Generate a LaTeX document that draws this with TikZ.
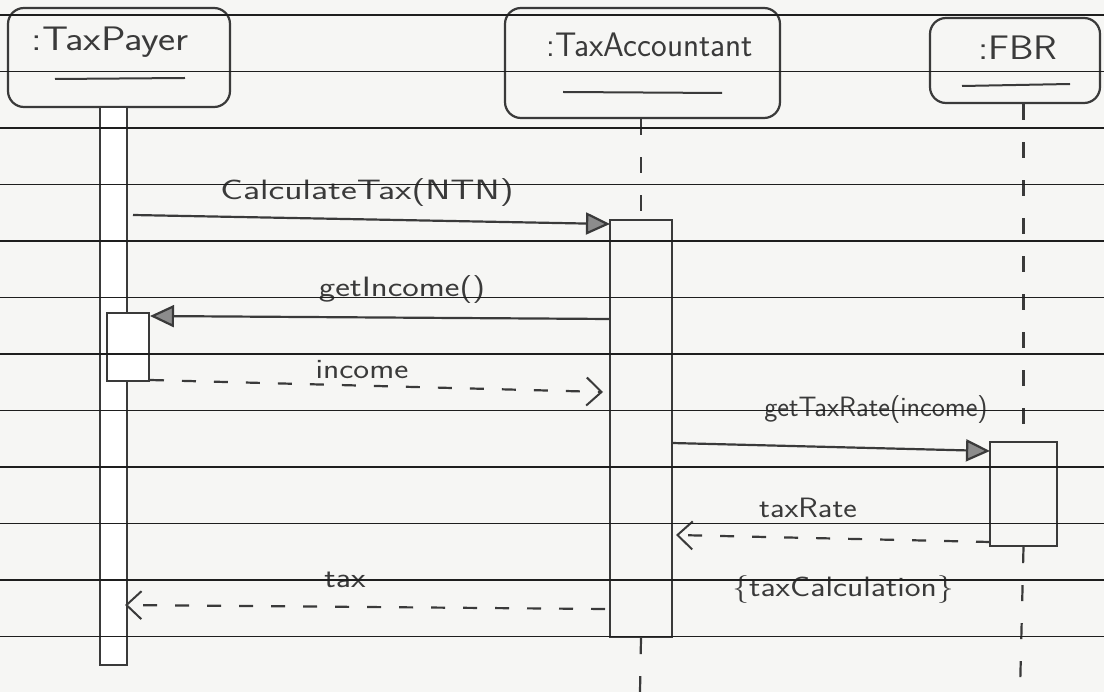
\documentclass[tikz,border=0pt]{standalone}
\usetikzlibrary{arrows.meta}
\definecolor{pen}{HTML}{3A3A3A}
\definecolor{paper}{HTML}{F6F6F4}
\definecolor{rule}{HTML}{1E1E1E}
\newcommand{\hw}[2]{\scalebox{#1}[1]{#2}}
\begin{document}
\begin{tikzpicture}[x=1pt,y=-1pt,
  pencil/.style={draw=pen, line width=2.2pt},
  objbox/.style={pencil, rounded corners=16pt, inner sep=0pt},
  actbox/.style={pencil, inner sep=0pt, fill=white},
  title/.style={text=pen, font=\fontsize{34}{38}\sffamily, inner sep=0pt},
  lbl/.style={text=pen, font=\fontsize{28}{32}\sffamily, inner sep=0pt},
  uline/.style={draw=pen, line width=2pt},
  lifeline/.style={draw=pen, line width=2.2pt, dash pattern=on 16pt off 22pt},
  sync/.style={draw=pen, line width=2.2pt, -{Triangle[length=24pt,width=22pt,fill=black!45]}},
  reply/.style={draw=pen, line width=2.2pt, dash pattern=on 14pt off 18pt, -{Straight Barb[length=15pt,width=28pt,line width=2pt]}},
  ruled/.style={draw=rule, line width=1.8pt}
]
\useasboundingbox (0,0) rectangle (1104,692);
\fill[paper] (0,0) rectangle (1104,692);

% objects
\node[objbox, minimum width=222pt, minimum height=99pt] (tp) at (119,57.5) {};
\node[title] (tpt) at (110,42) {\hw{1.2}{:TaxPayer}};
\draw[uline] (55,79) -- (185,78);

\node[objbox, minimum width=275pt, minimum height=110pt] (acc) at (642.5,63) {};
\node[title] (acct) at (650,45) {\hw{0.98}{:TaxAccountant}};
\draw[uline] (563,92) -- (722,93);

\node[objbox, minimum width=170pt, minimum height=85pt] (fbr) at (1015,60.5) {};
\node[title] (fbrt) at (1018,48) {\hw{1.15}{:FBR}};
\draw[uline] (962,86) -- (1070,84);

% lifelines and activations
\node[actbox, minimum width=27pt, minimum height=558pt] (tpbar) at (113.5,386) {};
\node[actbox, minimum width=42pt, minimum height=68pt] (tpact) at (128,347) {};
\node[actbox, fill=none, minimum width=62pt, minimum height=417pt] (accact) at (641,428.5) {};
\node[actbox, fill=none, minimum width=67pt, minimum height=104pt] (fbract) at (1023.5,494) {};

\coordinate (accend) at (640,692);
\coordinate (fbrend) at (1020,692);
\draw[lifeline] (acc.south -| accact.north) -- (accact.north);
\draw[lifeline] (accact.south) -- (accend);
\draw[lifeline] (fbr.south -| fbract.north) -- (fbract.north);
\draw[lifeline] (fbract.south) -- (fbrend);

% messages
\coordinate (m1s) at (133,215);
\coordinate (m1e) at (610,224);
\draw[sync] (m1s) -- (m1e);
\node[lbl] (l1) at (367,193) {\hw{1.35}{CalculateTax(NTN)}};

\coordinate (m2s) at (610,319);
\coordinate (m2e) at (150,316);
\draw[sync] (m2s) -- (m2e);
\node[lbl] (l2) at (402,290) {\hw{1.25}{getIncome()}};

\coordinate (m3s) at (150,380);
\coordinate (m3e) at (603,392);
\draw[reply] (m3s) -- (m3e);
\node[lbl] (l3) at (362,370) {\hw{1.2}{income}};

\coordinate (m4s) at (672,443);
\coordinate (m4e) at (990,451);
\draw[sync] (m4s) -- (m4e);
\node[lbl] (l4) at (876,410) {\hw{1.0}{getTaxRate(income)}};

\coordinate (m5s) at (990,542);
\coordinate (m5e) at (676,535);
\draw[reply] (m5s) -- (m5e);
\node[lbl] (l5) at (808,508) {\hw{1.15}{taxRate}};

\node[lbl] (l6) at (843,590) {\hw{1.2}{\{taxCalculation\}}};

\coordinate (m7s) at (605,609);
\coordinate (m7e) at (125,605);
\draw[reply] (m7s) -- (m7e);
\node[lbl] (l7) at (345,580) {\hw{1.2}{tax}};

% ruled paper lines
\foreach \k in {0,...,11} {
  \draw[ruled] (0,15+56.5*\k) -- (1104,15+56.5*\k);
}
\end{tikzpicture}
\end{document}
